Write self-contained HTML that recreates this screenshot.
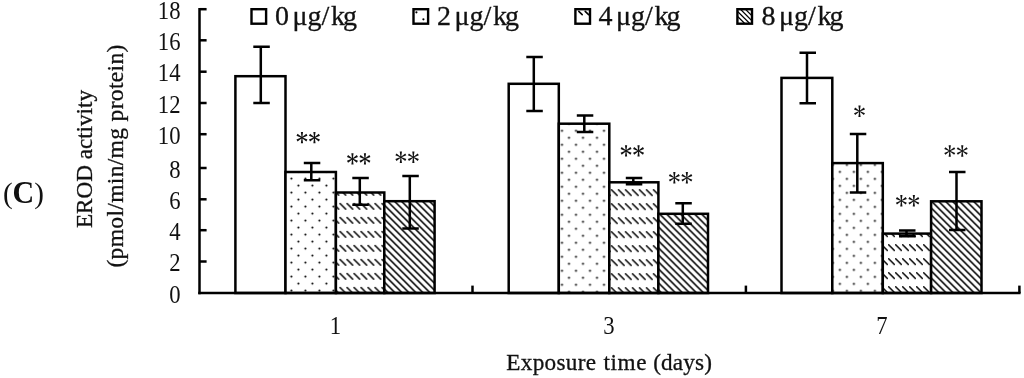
<!DOCTYPE html>
<html><head><meta charset="utf-8"><title>EROD activity</title>
<style>
html,body{margin:0;padding:0;background:#fff;}
body{width:1024px;height:378px;overflow:hidden;font-family:"Liberation Serif",serif;}
svg{display:block;position:absolute;left:0;top:0;filter:grayscale(1);}
text{font-family:"Liberation Serif",serif;fill:#111;}
.b text,text.b{stroke:#111;stroke-width:0.3px;}
.ln{stroke:#000;stroke-width:2.5;fill:none;stroke-linecap:butt;}
</style></head><body>
<svg width="1024" height="378" viewBox="0 0 1024 378">
<rect x="0" y="0" width="1024" height="378" fill="#fff"/>
<defs>
<path id="ast" d="M0.35,0.00 L1.10,-5.70 L-1.10,-5.70 L-0.35,-0.00Z M-0.35,-0.00 L-1.10,5.70 L1.10,5.70 L0.35,0.00Z M0.17,0.30 L5.49,-1.90 L4.39,-3.80 L-0.17,-0.30Z M0.17,-0.30 L-4.39,-3.80 L-5.49,-1.90 L-0.17,0.30Z M-0.18,-0.30 L-5.49,1.90 L-4.39,3.80 L0.18,0.30Z M-0.18,0.30 L4.39,3.80 L5.49,1.90 L0.18,-0.30Z" fill="#111"/>
<pattern id="dots0" patternUnits="userSpaceOnUse" x="287.90" y="259.10" width="14" height="14"><rect width="14" height="14" fill="#fff"/><circle cx="3.5" cy="3.5" r="1.05" fill="#000"/><circle cx="10.5" cy="10.5" r="1.05" fill="#000"/></pattern>
<pattern id="dash0" patternUnits="userSpaceOnUse" x="339.40" y="202.90" width="7" height="14"><rect width="7" height="14" fill="#fff"/><path d="M0.3,0.3 L6.3,6.3" stroke="#000" stroke-width="1.5" stroke-linecap="round"/></pattern>
<pattern id="diag0" patternUnits="userSpaceOnUse" x="4.30" y="0" width="7" height="7"><rect width="7" height="7" fill="#fff"/><path d="M-7,-7 L14,14 M-14,-7 L7,14 M0,-7 L21,14" stroke="#dcdcdc" stroke-width="2.1"/><path d="M-7,-7 L14,14 M-14,-7 L7,14 M0,-7 L21,14" stroke="#000" stroke-width="1.45"/></pattern>
<pattern id="dots1" patternUnits="userSpaceOnUse" x="558.50" y="127.30" width="14" height="14"><rect width="14" height="14" fill="#fff"/><circle cx="3.5" cy="3.5" r="1.05" fill="#000"/><circle cx="10.5" cy="10.5" r="1.05" fill="#000"/></pattern>
<pattern id="dash1" patternUnits="userSpaceOnUse" x="610.80" y="189.20" width="7" height="14"><rect width="7" height="14" fill="#fff"/><path d="M0.3,0.3 L6.3,6.3" stroke="#000" stroke-width="1.5" stroke-linecap="round"/></pattern>
<pattern id="diag1" patternUnits="userSpaceOnUse" x="4.60" y="0" width="7" height="7"><rect width="7" height="7" fill="#fff"/><path d="M-7,-7 L14,14 M-14,-7 L7,14 M0,-7 L21,14" stroke="#dcdcdc" stroke-width="2.1"/><path d="M-7,-7 L14,14 M-14,-7 L7,14 M0,-7 L21,14" stroke="#000" stroke-width="1.45"/></pattern>
<pattern id="dots2" patternUnits="userSpaceOnUse" x="836.40" y="182.40" width="14" height="14"><rect width="14" height="14" fill="#fff"/><circle cx="3.5" cy="3.5" r="1.05" fill="#000"/><circle cx="10.5" cy="10.5" r="1.05" fill="#000"/></pattern>
<pattern id="dash2" patternUnits="userSpaceOnUse" x="888.00" y="244.20" width="7" height="14"><rect width="7" height="14" fill="#fff"/><path d="M0.3,0.3 L6.3,6.3" stroke="#000" stroke-width="1.5" stroke-linecap="round"/></pattern>
<pattern id="diag2" patternUnits="userSpaceOnUse" x="2.30" y="0" width="7" height="7"><rect width="7" height="7" fill="#fff"/><path d="M-7,-7 L14,14 M-14,-7 L7,14 M0,-7 L21,14" stroke="#dcdcdc" stroke-width="2.1"/><path d="M-7,-7 L14,14 M-14,-7 L7,14 M0,-7 L21,14" stroke="#000" stroke-width="1.45"/></pattern>
</defs>
<rect x="235.40" y="76.20" width="50.10" height="216.80" fill="#fff" class="ln" style="fill:#fff"/>
<rect x="285.50" y="172.00" width="50.40" height="121.00" fill="url(#dots0)" class="ln" style="fill:url(#dots0)"/>
<rect x="335.90" y="192.50" width="48.40" height="100.50" fill="url(#dash0)" class="ln" style="fill:url(#dash0)"/>
<rect x="384.30" y="201.20" width="50.30" height="91.80" fill="url(#diag0)" class="ln" style="fill:url(#diag0)"/>
<rect x="508.70" y="83.80" width="50.10" height="209.20" fill="#fff" class="ln" style="fill:#fff"/>
<rect x="558.80" y="123.70" width="50.50" height="169.30" fill="url(#dots1)" class="ln" style="fill:url(#dots1)"/>
<rect x="609.30" y="182.30" width="49.10" height="110.70" fill="url(#dash1)" class="ln" style="fill:url(#dash1)"/>
<rect x="658.40" y="213.80" width="49.60" height="79.20" fill="url(#diag1)" class="ln" style="fill:url(#diag1)"/>
<rect x="781.50" y="77.90" width="50.80" height="215.10" fill="#fff" class="ln" style="fill:#fff"/>
<rect x="832.30" y="163.10" width="50.50" height="129.90" fill="url(#dots2)" class="ln" style="fill:url(#dots2)"/>
<rect x="882.80" y="233.60" width="48.30" height="59.40" fill="url(#dash2)" class="ln" style="fill:url(#dash2)"/>
<rect x="931.10" y="201.30" width="50.40" height="91.70" fill="url(#diag2)" class="ln" style="fill:url(#diag2)"/>
<path class="ln" d="M260.80,46.70 V103.00 M253.30,46.70 H269.80 M253.30,103.00 H269.80"/>
<path class="ln" d="M311.30,163.10 V180.30 M303.80,163.10 H320.30 M303.80,180.30 H320.30"/>
<path class="ln" d="M359.80,178.00 V204.80 M352.30,178.00 H368.80 M352.30,204.80 H368.80"/>
<path class="ln" d="M409.80,176.00 V228.40 M402.30,176.00 H418.80 M402.30,228.40 H418.80"/>
<path class="ln" d="M533.80,57.10 V111.10 M526.30,57.10 H542.80 M526.30,111.10 H542.80"/>
<path class="ln" d="M584.30,115.40 V132.10 M576.80,115.40 H593.30 M576.80,132.10 H593.30"/>
<path class="ln" d="M633.30,178.00 V184.20 M625.80,178.00 H642.30 M625.80,184.20 H642.30"/>
<path class="ln" d="M682.80,203.30 V223.70 M675.30,203.30 H691.80 M675.30,223.70 H691.80"/>
<path class="ln" d="M807.00,52.70 V103.30 M799.50,52.70 H816.00 M799.50,103.30 H816.00"/>
<path class="ln" d="M857.30,134.10 V192.60 M849.80,134.10 H866.30 M849.80,192.60 H866.30"/>
<path class="ln" d="M906.50,230.40 V236.20 M899.00,230.40 H915.50 M899.00,236.20 H915.50"/>
<path class="ln" d="M956.50,171.90 V230.00 M949.00,171.90 H965.50 M949.00,230.00 H965.50"/>
<path class="ln" d="M199.50,7.95 V294.25"/>
<path class="ln" d="M198.25,293.00 H1020.60"/>
<path class="ln" d="M199.50,9.20 H206.60"/>
<path class="ln" d="M199.50,40.30 H206.60"/>
<path class="ln" d="M199.50,71.70 H206.60"/>
<path class="ln" d="M199.50,103.00 H206.60"/>
<path class="ln" d="M199.50,134.20 H206.60"/>
<path class="ln" d="M199.50,168.00 H206.60"/>
<path class="ln" d="M199.50,199.30 H206.60"/>
<path class="ln" d="M199.50,230.20 H206.60"/>
<path class="ln" d="M199.50,261.50 H206.60"/>
<path class="ln" d="M472.50,285.60 V293.00"/>
<path class="ln" d="M745.90,285.60 V293.00"/>
<path class="ln" d="M1019.40,285.60 V293.00"/>
<text transform="translate(180.5,18.90) scale(0.9,1)" font-size="25.2" text-anchor="end">18</text>
<text transform="translate(180.5,50.00) scale(0.9,1)" font-size="25.2" text-anchor="end">16</text>
<text transform="translate(180.5,81.40) scale(0.9,1)" font-size="25.2" text-anchor="end">14</text>
<text transform="translate(180.5,112.70) scale(0.9,1)" font-size="25.2" text-anchor="end">12</text>
<text transform="translate(180.5,143.90) scale(0.9,1)" font-size="25.2" text-anchor="end">10</text>
<text transform="translate(180.5,177.70) scale(0.9,1)" font-size="25.2" text-anchor="end">8</text>
<text transform="translate(180.5,209.00) scale(0.9,1)" font-size="25.2" text-anchor="end">6</text>
<text transform="translate(180.5,239.90) scale(0.9,1)" font-size="25.2" text-anchor="end">4</text>
<text transform="translate(180.5,271.20) scale(0.9,1)" font-size="25.2" text-anchor="end">2</text>
<text transform="translate(180.5,302.70) scale(0.9,1)" font-size="25.2" text-anchor="end">0</text>
<text transform="translate(335.50,334.1) scale(0.9,1)" font-size="25.2" text-anchor="middle">1</text>
<text transform="translate(608.90,334.1) scale(0.9,1)" font-size="25.2" text-anchor="middle">3</text>
<text transform="translate(882.00,334.1) scale(0.9,1)" font-size="25.2" text-anchor="middle">7</text>
<g class="b"><text x="506.3" y="370.2" font-size="23.2" textLength="89.8" lengthAdjust="spacing">Exposure</text>
<text x="603.6" y="370.2" font-size="23.2" textLength="42.9" lengthAdjust="spacing">time</text>
<text x="653.2" y="370.2" font-size="23.2" textLength="58.7" lengthAdjust="spacing">(days)</text></g>
<text class="b" transform="translate(91.7,228) rotate(-90)" font-size="23.2" textLength="138" lengthAdjust="spacing">EROD activity</text>
<text class="b" transform="translate(123.3,267.6) rotate(-90)" font-size="23.6" textLength="223" lengthAdjust="spacing">(pmol/min/mg protein)</text>
<text transform="translate(2.9,202.7) scale(0.955,1)" font-size="30.5"><tspan>(</tspan><tspan font-weight="bold" font-size="31.5">C</tspan><tspan>)</tspan></text>
<g>
<rect x="251.50" y="9.2" width="14.6" height="14.5" class="ln" style="stroke-width:2.4"/>
<text class="b" x="275.00 289.00 292.50 307.40 321.40 331.00 343.00" y="25.3" font-size="28">0 μg/kg</text>
</g>
<g>
<circle cx="416.40" cy="12.3" r="1.1"/><circle cx="423.40" cy="19.3" r="1.1"/>
<rect x="413.50" y="9.2" width="14.6" height="14.5" class="ln" style="stroke-width:2.4"/>
<text class="b" x="437.00 451.00 454.50 469.40 483.40 493.00 505.00" y="25.3" font-size="28">2 μg/kg</text>
</g>
<g>
<path d="M578.80,11.4 l3.4,3.2 M585.20,11.4 l3.4,3.2" stroke="#000" stroke-width="1.6" stroke-linecap="round"/>
<rect x="575.40" y="9.2" width="14.6" height="14.5" class="ln" style="stroke-width:2.4"/>
<text class="b" x="598.60 612.60 616.10 631.00 645.00 654.60 666.60" y="25.3" font-size="28">4 μg/kg</text>
</g>
<g>
<clipPath id="lc"><rect x="737.20" y="9" width="15" height="15"/></clipPath>
<g clip-path="url(#lc)"><path d="M727.20,6 l18,18 M732.20,6 l18,18 M737.20,6 l18,18 M742.20,6 l18,18 M747.20,6 l18,18" stroke="#000" stroke-width="1.25"/></g>
<rect x="737.40" y="9.2" width="14.6" height="14.5" class="ln" style="stroke-width:2.4"/>
<text class="b" x="761.60 775.60 779.10 794.00 808.00 817.60 829.60" y="25.3" font-size="28">8 μg/kg</text>
</g>
<use href="#ast" x="301.95" y="137.60"/><use href="#ast" x="314.45" y="137.60"/>
<use href="#ast" x="352.45" y="158.90"/><use href="#ast" x="364.95" y="158.90"/>
<use href="#ast" x="400.85" y="157.20"/><use href="#ast" x="413.35" y="157.20"/>
<use href="#ast" x="626.05" y="150.90"/><use href="#ast" x="638.55" y="150.90"/>
<use href="#ast" x="674.35" y="177.80"/><use href="#ast" x="686.85" y="177.80"/>
<use href="#ast" x="859.50" y="111.30"/>
<use href="#ast" x="901.35" y="200.80"/><use href="#ast" x="913.85" y="200.80"/>
<use href="#ast" x="949.75" y="151.00"/><use href="#ast" x="962.25" y="151.00"/>
</svg></body></html>
